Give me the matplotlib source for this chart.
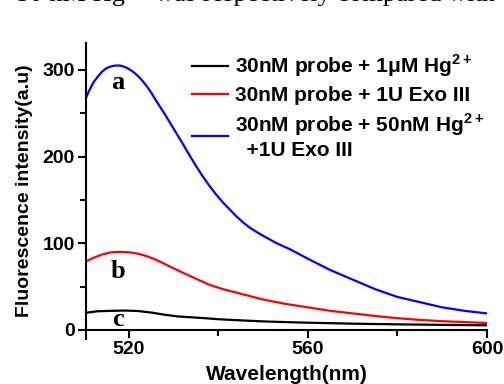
import matplotlib
matplotlib.use("Agg")
import matplotlib.pyplot as plt
from matplotlib.ticker import MultipleLocator

plt.rcParams["font.family"] = "Liberation Sans"
plt.rcParams["font.weight"] = "bold"
plt.rcParams["mathtext.fontset"] = "custom"
plt.rcParams["mathtext.rm"] = "Liberation Sans:bold"
plt.rcParams["mathtext.bf"] = "Liberation Sans:bold"

# curve a: probe + Hg2+ + Exo III (blue)
wl_a = [510, 511, 512, 513, 514, 515, 516, 517, 518, 519, 520, 521, 522, 523, 524,
        525, 526, 527, 528, 529, 530, 531, 532, 533, 534, 535, 536.5, 538, 539.5,
        541, 542.5, 544, 545.5, 547, 548.5, 550, 553, 556, 560, 565, 570, 575, 580,
        585, 590, 595, 600]
fl_a = [263, 275, 285, 292, 298, 302, 304, 305, 305, 303.5, 301, 297.5, 293, 287.5,
        281, 273.5, 265, 257, 249, 240.5, 232, 223.5, 215, 206, 197.5, 189, 177, 166,
        156, 147, 139, 131, 124, 118, 113, 108.5, 100, 93, 82, 69, 58, 47, 38,
        32, 26, 22, 19]

# curve b: probe + Exo III (red)
wl_b = [510, 512, 514, 516, 518, 520, 522, 524, 526, 528, 530, 532, 535, 538, 541,
        544, 547, 550, 555, 560, 565, 570, 575, 580, 585, 590, 595, 600]
fl_b = [78, 83, 87, 89.5, 90, 89.5, 88, 85, 81, 76, 71, 66, 59, 52, 47,
        43, 39, 35, 30, 26, 22, 19, 16, 13.5, 11.5, 10, 9, 8]

# curve c: probe + Hg2+ (black)
wl_c = [510, 513, 516, 519, 522, 525, 528, 531, 534, 537, 540, 545, 550, 555,
        560, 570, 580, 590, 600]
fl_c = [19.5, 21.5, 22, 22.3, 21.8, 20, 17.5, 15.5, 14.5, 13.5, 12.3, 11, 9.8, 9,
        8.3, 7.2, 6.4, 5.8, 5.3]

labels = ["30nM probe + 1\u03bcM Hg$^{2+}$",
          "30nM probe + 1U Exo III",
          "30nM probe + 50nM Hg$^{2+}$\n  +1U Exo III"]

fig = plt.figure(figsize=(5.04, 3.84), dpi=100)
ax = fig.add_axes([86 / 504, 1 - 339 / 384, (487 - 86) / 504, (339 - 43) / 384])

lc, = ax.plot(wl_c, fl_c, color="black", lw=1.6)
lb, = ax.plot(wl_b, fl_b, color="red", lw=1.6)
la, = ax.plot(wl_a, fl_a, color="blue", lw=1.6)

ax.set_xlim(510.4, 600)
ax.set_ylim(-10.5, 331)
ax.spines["top"].set_visible(False)
ax.spines["right"].set_visible(False)
ax.spines["bottom"].set_position(("data", 0))
ax.spines["left"].set_linewidth(1.5)
ax.spines["bottom"].set_linewidth(1.5)

ax.xaxis.set_minor_locator(MultipleLocator(20))
ax.set_xticks([520, 560, 600])
ax.yaxis.set_minor_locator(MultipleLocator(50))
ax.set_yticks([0, 100, 200, 300])
ax.tick_params(which="major", direction="out", length=6, width=1.5, labelsize=14, pad=2)
ax.tick_params(which="minor", direction="out", length=4, width=1.5)
for t in ax.get_xticklabels() + ax.get_yticklabels():
    t.set_fontweight("bold")

ax.set_xlabel("Wavelength(nm)", fontsize=15, fontweight="bold", labelpad=5)
ax.set_ylabel("Fluorescence intensity(a.u)", fontsize=14, fontweight="bold", labelpad=7)

for txt, y in [("a", 286), ("b", 67), ("c", 11.5)]:
    ax.text(517.6, y, txt, fontsize=19, fontweight="bold", family="Liberation Serif",
            ha="center", va="center")

ax.legend([lc, lb, la], labels, loc="upper left", bbox_to_anchor=(0.232, 1.01),
          frameon=False, fontsize=15, handlelength=1.75, handletextpad=0.35,
          labelspacing=0.32, borderaxespad=0.2)

fig.text(-5 / 504, 1 - 1 / 384, "+ 50 nM Hg", fontsize=19, family="Liberation Serif",
         fontweight="normal", va="baseline", ha="left")
fig.text(155 / 504, 1 - 1 / 384, "was respectively compared with", fontsize=19,
         family="Liberation Serif", fontweight="normal",
         va="baseline", ha="left")

fig.savefig("out.png", dpi=100)
